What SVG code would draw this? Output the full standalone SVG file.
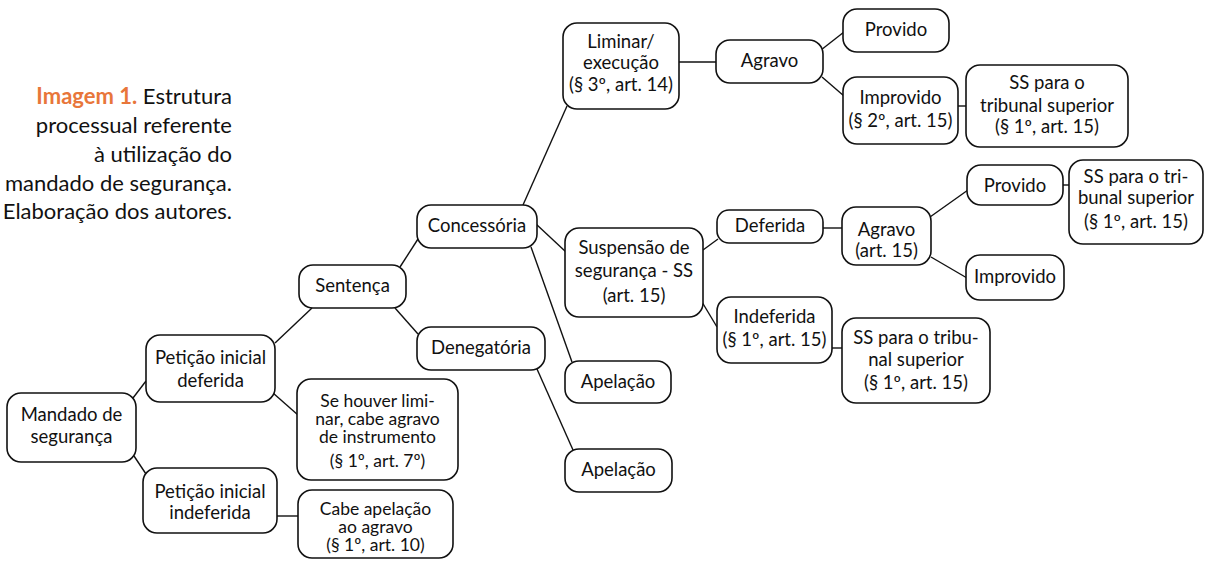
<svg xmlns="http://www.w3.org/2000/svg" width="1205" height="561" viewBox="0 0 1205 561">
<style>
.n rect{fill:#fff;stroke:#111;stroke-width:1.6}
.n text,.cap{font-family:Lato,"Open Sans","Liberation Sans",sans-serif;fill:#111}
.n text{font-size:18.5px;text-anchor:middle}
.n text.t{font-size:17.5px}
.cap{font-size:22px;text-anchor:end}
.hl{fill:#E8763A;font-weight:bold}
#connectors line{stroke:#111;stroke-width:1.4}
</style>
<rect width="1205" height="561" fill="#fff"/>
<g id="caption">
<text class="cap" x="232" y="104"><tspan class="hl">Imagem 1.</tspan> Estrutura</text>
<text class="cap" x="232" y="133">processual referente</text>
<text class="cap" x="232" y="162">à utilização do</text>
<text class="cap" x="232" y="190.5">mandado de segurança.</text>
<text class="cap" x="232" y="219">Elaboração dos autores.</text>
</g>
<g id="connectors">
<line x1="133" y1="398" x2="146" y2="381"/>
<line x1="134" y1="456" x2="146" y2="474"/>
<line x1="275" y1="343" x2="312" y2="308"/>
<line x1="273" y1="393" x2="298" y2="415"/>
<line x1="277" y1="516" x2="298" y2="516"/>
<line x1="400" y1="267" x2="418" y2="239"/>
<line x1="395" y1="308" x2="418" y2="334"/>
<line x1="523" y1="205" x2="567" y2="106"/>
<line x1="536" y1="224" x2="566" y2="252"/>
<line x1="531" y1="247" x2="572" y2="362"/>
<line x1="537" y1="369" x2="573" y2="450"/>
<line x1="679" y1="62" x2="716" y2="62"/>
<line x1="821" y1="50" x2="844" y2="32"/>
<line x1="822" y1="77" x2="844" y2="96"/>
<line x1="958" y1="106" x2="966" y2="106"/>
<line x1="703" y1="250" x2="718" y2="239"/>
<line x1="702" y1="302" x2="717" y2="327"/>
<line x1="823" y1="228" x2="842" y2="228"/>
<line x1="832" y1="348" x2="842" y2="348"/>
<line x1="930" y1="217" x2="968" y2="190"/>
<line x1="931" y1="257" x2="967" y2="278"/>
<line x1="1063" y1="185" x2="1069" y2="185"/>
</g>
<g id="mandado" class="n"><rect x="7" y="393" width="129" height="69" rx="14"/><text x="71.5" y="421">Mandado de</text><text x="71.5" y="443">segurança</text></g>
<g id="peticao-deferida" class="n"><rect x="146" y="335" width="129" height="67" rx="14"/><text x="210.5" y="364">Petição inicial</text><text x="210.5" y="387">deferida</text></g>
<g id="liminar-agravo" class="n"><rect x="297" y="379" width="161" height="101" rx="14"/><text class="t" x="377.5" y="407">Se houver limi-</text><text class="t" x="377.5" y="425">nar, cabe agravo</text><text class="t" x="377.5" y="443">de instrumento</text><text class="t" x="377.5" y="467">(§ 1º, art. 7º)</text></g>
<g id="peticao-indeferida" class="n"><rect x="143" y="468" width="134" height="65" rx="14"/><text x="210" y="498">Petição inicial</text><text x="210" y="519">indeferida</text></g>
<g id="cabe-apelacao" class="n"><rect x="298" y="490" width="155" height="68" rx="14"/><text class="t" x="375.5" y="515">Cabe apelação</text><text class="t" x="375.5" y="533">ao agravo</text><text class="t" x="375.5" y="551">(§ 1º, art. 10)</text></g>
<g id="sentenca" class="n"><rect x="299" y="265" width="107" height="43" rx="14"/><text x="352.5" y="292">Sentença</text></g>
<g id="concessoria" class="n"><rect x="417" y="205" width="120" height="43" rx="14"/><text x="477" y="232">Concessória</text></g>
<g id="denegatoria" class="n"><rect x="417" y="327" width="128" height="43" rx="14"/><text x="481" y="354">Denegatória</text></g>
<g id="liminar-execucao" class="n"><rect x="563" y="23" width="116" height="86" rx="14"/><text x="621" y="48">Liminar/</text><text x="621" y="69">execução</text><text x="621" y="91">(§ 3º, art. 14)</text></g>
<g id="agravo-1" class="n"><rect x="716" y="40" width="107" height="43" rx="14"/><text x="769.5" y="67">Agravo</text></g>
<g id="provido-1" class="n"><rect x="843" y="9" width="106" height="43" rx="14"/><text x="896" y="36">Provido</text></g>
<g id="improvido-1" class="n"><rect x="843" y="77" width="115" height="67" rx="14"/><text x="900.5" y="104">Improvido</text><text x="900.5" y="127">(§ 2º, art. 15)</text></g>
<g id="ss-tribunal-1" class="n"><rect x="966" y="65" width="162" height="82" rx="14"/><text x="1047" y="89">SS para o</text><text x="1047" y="112">tribunal superior</text><text x="1047" y="133">(§ 1º, art. 15)</text></g>
<g id="suspensao" class="n"><rect x="565" y="228" width="138" height="89" rx="14"/><text x="634" y="254">Suspensão de</text><text x="634" y="277">segurança - SS</text><text x="634" y="302">(art. 15)</text></g>
<g id="deferida" class="n"><rect x="717" y="210" width="106" height="33" rx="12"/><text x="770" y="232">Deferida</text></g>
<g id="indeferida" class="n"><rect x="717" y="297" width="115" height="66" rx="14"/><text x="774.5" y="323">Indeferida</text><text x="774.5" y="346">(§ 1º, art. 15)</text></g>
<g id="agravo-2" class="n"><rect x="842" y="207" width="89" height="58" rx="14"/><text x="886.5" y="236">Agravo</text><text x="886.5" y="257">(art. 15)</text></g>
<g id="provido-2" class="n"><rect x="967" y="165" width="96" height="40" rx="14"/><text x="1015" y="192">Provido</text></g>
<g id="ss-tribunal-2" class="n"><rect x="1069" y="160" width="134" height="84" rx="14"/><text x="1136" y="183">SS para o tri-</text><text x="1136" y="204">bunal superior</text><text x="1136" y="228">(§ 1º, art. 15)</text></g>
<g id="improvido-2" class="n"><rect x="966" y="255" width="98" height="45" rx="14"/><text x="1015" y="283">Improvido</text></g>
<g id="ss-tribunal-3" class="n"><rect x="842" y="318" width="148" height="85" rx="14"/><text x="916" y="344">SS para o tribu-</text><text x="916" y="366">nal superior</text><text x="916" y="389">(§ 1º, art. 15)</text></g>
<g id="apelacao-1" class="n"><rect x="565" y="361" width="106" height="42" rx="14"/><text x="618" y="388">Apelação</text></g>
<g id="apelacao-2" class="n"><rect x="565" y="449" width="107" height="43" rx="14"/><text x="618.5" y="476">Apelação</text></g>
</svg>
